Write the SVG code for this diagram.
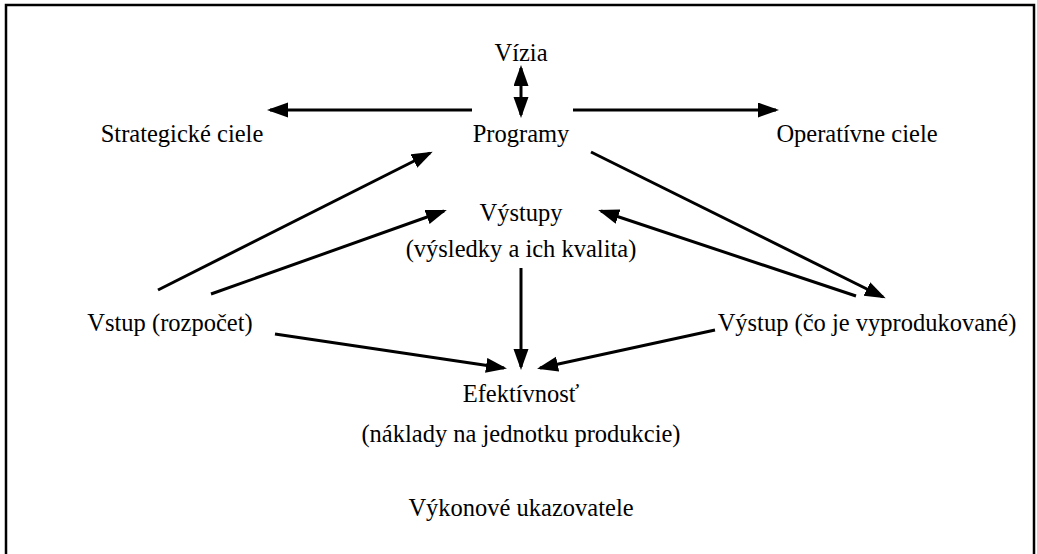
<svg xmlns="http://www.w3.org/2000/svg" width="1037" height="554" viewBox="0 0 1037 554">
  <defs>
    <style>
      text { font-family: 'Liberation Serif', 'Times New Roman', Times, 'DejaVu Serif', serif; font-size: 24.5px; fill: #000; text-anchor: middle; }
      .conn { stroke: #000; stroke-width: 3; fill: none; marker-end: url(#arrow); }
      .both { marker-start: url(#arrow); }
      .frame { fill: #fff; stroke: #000; stroke-width: 2.5; }
    </style>
    <marker id="arrow" markerUnits="userSpaceOnUse" markerWidth="24" markerHeight="16" refX="18" refY="7.5" orient="auto-start-reverse">
      <path d="M0,0 L21,7.5 L0,15 z" fill="#000"/>
    </marker>
  </defs>

  <rect class="frame" x="6" y="5" width="1028" height="560"/>

  <g id="vizia"><text x="521" y="61">Vízia</text></g>
  <g id="programy"><text x="521" y="142">Programy</text></g>
  <g id="strategicke-ciele"><text x="182" y="142">Strategické ciele</text></g>
  <g id="operativne-ciele"><text x="857" y="142">Operatívne ciele</text></g>
  <g id="vystupy">
    <text x="521" y="221">Výstupy</text>
    <text x="521" y="257">(výsledky a ich kvalita)</text>
  </g>
  <g id="vstup"><text x="170" y="331">Vstup (rozpočet)</text></g>
  <g id="vystup"><text x="867" y="331">Výstup (čo je vyprodukované)</text></g>
  <g id="efektivnost">
    <text x="521" y="402">Efektívnosť</text>
    <text x="521" y="442">(náklady na jednotku produkcie)</text>
  </g>
  <g id="vykonove-ukazovatele"><text x="521" y="516">Výkonové ukazovatele</text></g>

  <g id="connectors">
    <line class="conn both" x1="521" y1="68" x2="521" y2="115"/>
    <line class="conn" x1="472" y1="110" x2="270" y2="110"/>
    <line class="conn" x1="573" y1="110" x2="776" y2="110"/>
    <line class="conn" x1="158" y1="290" x2="430" y2="153"/>
    <line class="conn" x1="211" y1="294" x2="444" y2="211"/>
    <line class="conn" x1="591" y1="152" x2="883" y2="297"/>
    <line class="conn" x1="856" y1="296" x2="601" y2="211"/>
    <line class="conn" x1="521" y1="268" x2="521" y2="367"/>
    <line class="conn" x1="275" y1="334" x2="504" y2="368"/>
    <line class="conn" x1="715" y1="330" x2="540" y2="368"/>
  </g>
</svg>
